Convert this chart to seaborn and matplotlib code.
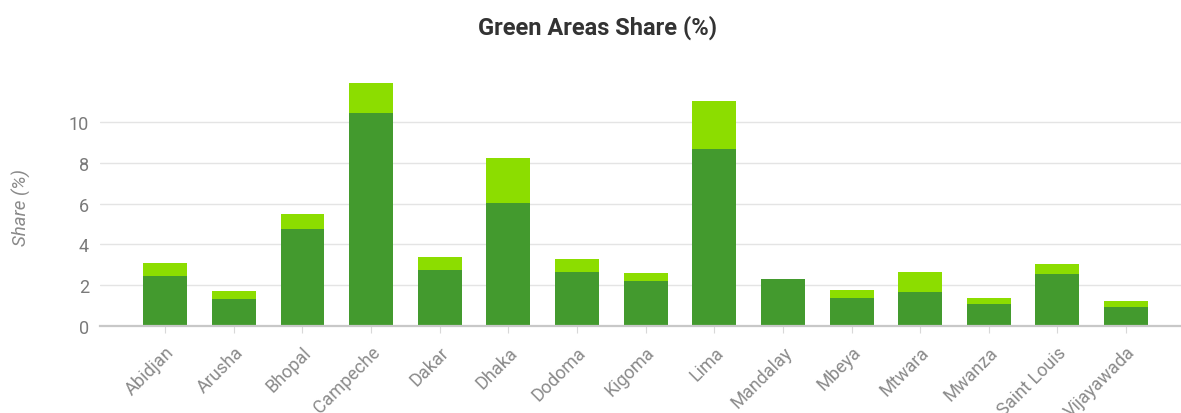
import matplotlib
matplotlib.use("Agg")
import matplotlib.pyplot as plt
import seaborn as sns
import pandas as pd

cities = ["Abidjan", "Arusha", "Bhopal", "Campeche", "Dakar", "Dhaka", "Dodoma",
          "Kigoma", "Lima", "Mandalay", "Mbeya", "Mtwara", "Mwanza", "Saint Louis",
          "Vijayawada"]
# lower (dark) segment and upper (light) segment of each stacked bar
base_share = [2.45, 1.32, 4.74, 10.46, 2.75, 6.03, 2.63, 2.19, 8.66, 2.30,
              1.39, 1.65, 1.08, 2.55, 0.93]
extra_share = [0.62, 0.41, 0.75, 1.48, 0.65, 2.19, 0.68, 0.42, 2.37, 0.0,
               0.36, 0.98, 0.29, 0.47, 0.30]
y_ticks = [0, 2, 4, 6, 8, 10]

DARK = "#439a2e"
LIGHT = "#8cdd00"
TEXT_GREY = "#7a7a7a"

sns.set_theme(style="white")
plt.rcParams["font.family"] = ["Roboto", "DejaVu Sans"]

df = pd.DataFrame({"city": cities, "base": base_share,
                   "total": [b + e for b, e in zip(base_share, extra_share)]})

fig = plt.figure(figsize=(11.81, 4.14), dpi=100)
ax = fig.add_axes([0.0847, 0.21, 0.9153, 0.601])

sns.barplot(data=df, x="city", y="total", color=LIGHT, width=0.64,
            saturation=1, linewidth=0, edgecolor="none", ax=ax, zorder=2)
sns.barplot(data=df, x="city", y="base", color=DARK, width=0.64,
            saturation=1, linewidth=0, edgecolor="none", ax=ax, zorder=3)

ax.set_ylim(0, 12.2)
ax.set_xlim(-0.95, 14.8)
ax.set_yticks(y_ticks)
ax.yaxis.grid(True, color="#e4e4e4", linewidth=1)
ax.set_axisbelow(True)
for side in ["top", "right", "left"]:
    ax.spines[side].set_visible(False)
ax.spines["bottom"].set_color("#c8c8c8")
ax.spines["bottom"].set_linewidth(1.6)
ax.spines["bottom"].set_zorder(4)

ax.tick_params(axis="y", length=0, labelsize=13, labelcolor=TEXT_GREY, pad=8)
ax.tick_params(axis="x", bottom=True, length=5, width=0.8, color="#d8d8d8",
               labelsize=13, labelcolor="#8a8a8a", pad=7)
plt.setp(ax.get_xticklabels(), rotation=45, ha="right", va="top",
         rotation_mode="anchor")

ax.set_xlabel("")
ax.set_ylabel("Share (%)", fontsize=13.5, color="#8a8a8a", style="italic")
ax.yaxis.set_label_coords(-0.064, 0.48)

fig.text(0.506, 0.932, "Green Areas Share (%)", ha="center", va="center",
         fontsize=17, fontweight="bold", color="#333333")

fig.savefig("out.png", dpi=100)
